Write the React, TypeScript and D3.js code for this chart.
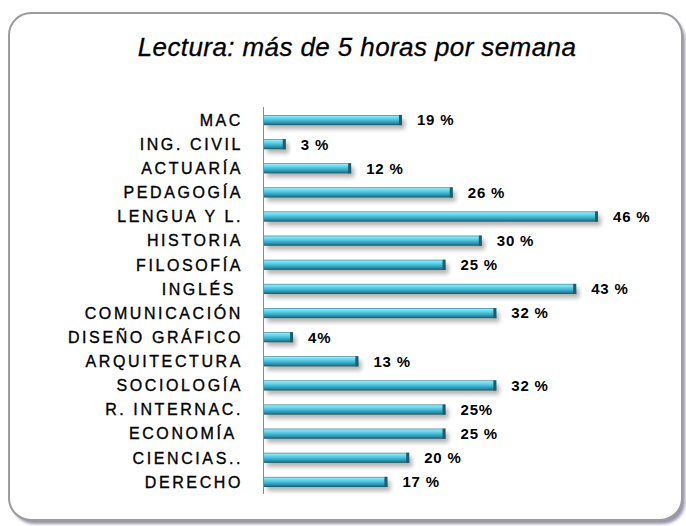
import React from 'react';
import * as d3 from 'd3';

// Categories (top to bottom) and values in %
const categories = [
  'MAC', 'ING. CIVIL', 'ACTUARÍA', 'PEDAGOGÍA', 'LENGUA Y L.', 'HISTORIA',
  'FILOSOFÍA', 'INGLÉS ', 'COMUNICACIÓN', 'DISEÑO GRÁFICO', 'ARQUITECTURA',
  'SOCIOLOGÍA', 'R. INTERNAC.', 'ECONOMÍA ', 'CIENCIAS..', 'DERECHO',
];
const values = [19, 3, 12, 26, 46, 30, 25, 43, 32, 4, 13, 32, 25, 25, 20, 17];
const valueLabels = [
  '19 %', '3 %', '12 %', '26 %', '46 %', '30 %', '25 %', '43 %', '32 %',
  '4%', '13 %', '32 %', '25%', '25 %', '20 %', '17 %',
];
const title = 'Lectura: más de 5 horas por semana';

const W = 686;
const H = 526;

const App = () => {
  const x = d3.scaleLinear().domain([0, 46]).range([264, 598]);
  const y = d3.scaleBand<string>()
    .domain(categories)
    .range([108, 494])
    .paddingInner(0.58)
    .paddingOuter(0.29);
  const bh = y.bandwidth();

  return (
    <div style={{ position: 'absolute', left: 0, top: 0 }}>
      <svg width={W} height={H} style={{ display: 'block' }}>
        <defs>
          <linearGradient id="barGrad" x1="0" y1="0" x2="0" y2="1">
            <stop offset="0" stopColor="#2c7f92" />
            <stop offset="0.12" stopColor="#8fe8f8" />
            <stop offset="0.45" stopColor="#4cc6e2" />
            <stop offset="0.8" stopColor="#2a8ea6" />
            <stop offset="1" stopColor="#1a5666" />
          </linearGradient>
          <filter id="shadow" x="-10%" y="-100%" width="120%" height="300%">
            <feGaussianBlur stdDeviation="2" />
          </filter>
          <filter id="frameShadow" x="-5%" y="-5%" width="110%" height="110%">
            <feGaussianBlur stdDeviation="1.5" />
          </filter>
        </defs>

        {/* frame with shadow */}
        <rect x={12} y={17} width={673} height={507} rx={22} fill="#9a93ae" filter="url(#frameShadow)" />
        <rect x={9} y={13} width={673} height={507} rx={22} fill="#ffffff" stroke="#9c9c9c" strokeWidth={2} />

        {/* title */}
        <text
          x={357}
          y={56}
          textAnchor="middle"
          fontFamily="'Liberation Sans', Arial, sans-serif"
          fontStyle="italic"
          fontSize={26}
          letterSpacing={0.4}
          stroke="#000"
          strokeWidth={0.3}
          fill="#000"
        >
          {title}
        </text>

        {/* bars */}
        {categories.map((c, i) => {
          const y0 = y(c) as number;
          const x1 = x(values[i]);
          return (
            <g key={c}>
              <rect x={x(0) + 3} y={y0 + 4} width={x1 - x(0)} height={bh} fill="#777" opacity={0.55} filter="url(#shadow)" />
              <rect x={x(0)} y={y0} width={x1 - x(0)} height={bh} fill="url(#barGrad)" />
              <rect x={x1 - 3} y={y0} width={3} height={bh} fill="#1d5e6e" />
            </g>
          );
        })}

        {/* axis line */}
        <line x1={x(0) - 0.5} x2={x(0) - 0.5} y1={107} y2={494} stroke="#8a8a8a" strokeWidth={1} />

        {/* category labels */}
        {categories.map((c) => (
          <text
            key={'l' + c}
            x={243}
            y={(y(c) as number) + bh / 2}
            dy="0.36em"
            textAnchor="end"
            fontFamily="'Liberation Sans', Arial, sans-serif"
            fontSize={16}
            letterSpacing={2.6}
            stroke="#000"
            strokeWidth={0.35}
            fill="#000"
            style={{ whiteSpace: 'pre' }}
          >
            {c}
          </text>
        ))}

        {/* value labels */}
        {categories.map((c, i) => (
          <text
            key={'v' + c}
            x={x(values[i]) + 15}
            y={(y(c) as number) + bh / 2}
            dy="0.36em"
            fontFamily="'Liberation Sans', Arial, sans-serif"
            fontWeight="bold"
            fontSize={15}
            letterSpacing={0.8}
            fill="#000"
          >
            {valueLabels[i]}
          </text>
        ))}
      </svg>
    </div>
  );
};

export default App;
